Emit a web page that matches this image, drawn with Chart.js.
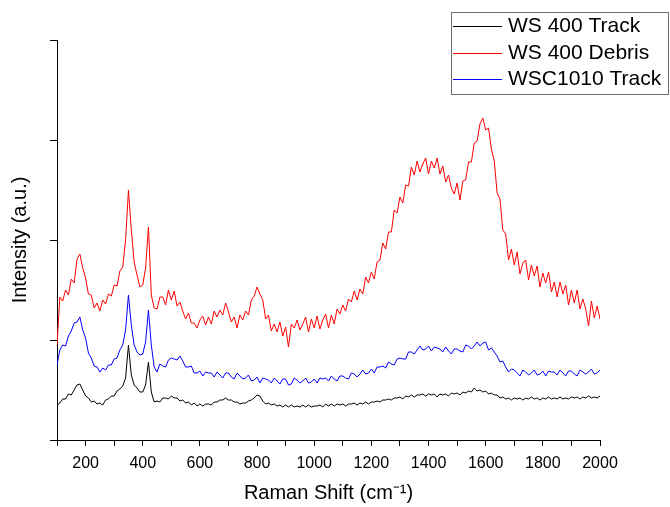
<!DOCTYPE html>
<html>
<head>
    <title>Raman Spectra</title>
    <script src="https://cdn.jsdelivr.net/npm/chart.js@4.4.0/dist/chart.umd.min.js"></script>
    <style>
        body {
            margin: 0;
            padding: 0;
            background-color: #fff;
        }
        #wrap {
            width: 670px;
            height: 507px;
        }
    </style>
</head>
<body>
    <div id="wrap">
        <canvas id="ramanChart" width="670" height="507"></canvas>
    </div>

    <script>
        // Raman shift (cm-1), one sample every 10 cm-1
        const ramanShift = [
            100, 110, 120, 130, 140, 150, 160, 170, 180, 190,
            200, 210, 220, 230, 240, 250, 260, 270, 280, 290,
            300, 310, 320, 330, 340, 350, 360, 370, 380, 390,
            400, 410, 420, 430, 440, 450, 460, 470, 480, 490,
            500, 510, 520, 530, 540, 550, 560, 570, 580, 590,
            600, 610, 620, 630, 640, 650, 660, 670, 680, 690,
            700, 710, 720, 730, 740, 750, 760, 770, 780, 790,
            800, 810, 820, 830, 840, 850, 860, 870, 880, 890,
            900, 910, 920, 930, 940, 950, 960, 970, 980, 990,
            1000, 1010, 1020, 1030, 1040, 1050, 1060, 1070, 1080, 1090,
            1100, 1110, 1120, 1130, 1140, 1150, 1160, 1170, 1180, 1190,
            1200, 1210, 1220, 1230, 1240, 1250, 1260, 1270, 1280, 1290,
            1300, 1310, 1320, 1330, 1340, 1350, 1360, 1370, 1380, 1390,
            1400, 1410, 1420, 1430, 1440, 1450, 1460, 1470, 1480, 1490,
            1500, 1510, 1520, 1530, 1540, 1550, 1560, 1570, 1580, 1590,
            1600, 1610, 1620, 1630, 1640, 1650, 1660, 1670, 1680, 1690,
            1700, 1710, 1720, 1730, 1740, 1750, 1760, 1770, 1780, 1790,
            1800, 1810, 1820, 1830, 1840, 1850, 1860, 1870, 1880, 1890,
            1900, 1910, 1920, 1930, 1940, 1950, 1960, 1970, 1980, 1990,
            2000
        ];

        // intensities (a.u.)
        const ws400Track = [
            35, 37, 41, 41, 46, 45, 50, 55, 56, 50,
            44, 42, 38, 39, 36, 37, 35, 40, 41, 44,
            44, 49, 51, 54, 62, 95, 65, 55, 52, 48,
            48, 55, 78, 48, 38, 39, 38, 42, 42, 41,
            44, 42, 42, 39, 40, 37, 38, 35, 37, 34,
            36, 34, 36, 36, 35, 38, 38, 40, 40, 42,
            40, 40, 38, 38, 36, 37, 37, 39, 40, 42,
            45, 44, 39, 36, 37, 35, 36, 34, 35, 33,
            35, 33, 35, 33, 34, 33, 35, 33, 35, 33,
            34, 34, 35, 33, 36, 34, 36, 34, 36, 35,
            36, 34, 36, 36, 37, 35, 37, 36, 38, 36,
            38, 38, 39, 38, 40, 40, 41, 40, 42, 42,
            43, 41, 44, 43, 45, 43, 45, 45, 46, 44,
            46, 45, 46, 43, 46, 45, 46, 44, 47, 46,
            47, 45, 48, 47, 49, 48, 52, 49, 50, 48,
            49, 46, 47, 45, 45, 42, 43, 41, 42, 40,
            42, 41, 42, 40, 42, 41, 43, 41, 42, 40,
            42, 41, 43, 41, 42, 41, 43, 41, 42, 41,
            43, 42, 43, 41, 43, 42, 44, 42, 43, 42,
            44
        ];

        const ws400Debris = [
            95, 143, 139, 150, 145, 161, 157, 181, 186, 172,
            162, 146, 145, 132, 137, 129, 140, 136, 146, 144,
            155, 154, 169, 173, 200, 250, 210, 178, 165, 153,
            155, 172, 213, 145, 132, 131, 143, 143, 135, 150,
            140, 149, 134, 138, 129, 121, 127, 117, 117, 112,
            120, 124, 115, 123, 116, 129, 123, 130, 125, 137,
            128, 118, 123, 112, 125, 120, 129, 125, 140, 144,
            153, 146, 140, 121, 125, 109, 116, 108, 118, 104,
            113, 93, 116, 112, 120, 110, 116, 123, 108, 121,
            112, 124, 111, 120, 126, 112, 125, 116, 131, 126,
            135, 129, 141, 138, 149, 140, 151, 146, 163, 157,
            168, 161, 178, 180, 197, 191, 208, 208, 230, 227,
            243, 237, 255, 254, 273, 265, 279, 268, 276, 282,
            266, 279, 272, 282, 266, 274, 258, 265, 252, 246,
            257, 240, 259, 260, 278, 278, 297, 299, 316, 322,
            310, 312, 291, 279, 247, 241, 210, 206, 180, 191,
            175, 188, 166, 177, 180, 160, 175, 164, 174, 153,
            167, 157, 168, 148, 158, 143, 158, 146, 155, 135,
            150, 137, 150, 131, 141, 131, 114, 139, 122, 134,
            121
        ];

        const wsc1010Track = [
            75, 90, 95, 94, 104, 109, 117, 118, 123, 110,
            102, 87, 82, 74, 73, 68, 72, 70, 75, 75,
            81, 82, 90, 95, 110, 145, 115, 95, 88, 85,
            86, 98, 130, 95, 73, 68, 76, 74, 73, 80,
            82, 81, 80, 84, 79, 73, 73, 74, 67, 67,
            69, 64, 68, 67, 67, 63, 68, 65, 62, 67,
            67, 63, 61, 67, 64, 61, 62, 65, 59, 60,
            63, 57, 62, 61, 60, 57, 62, 59, 56, 61,
            61, 55, 56, 62, 60, 57, 59, 62, 57, 58,
            61, 57, 62, 61, 62, 59, 64, 61, 59, 64,
            64, 62, 61, 67, 66, 63, 66, 70, 66, 67,
            71, 67, 73, 73, 74, 72, 78, 76, 75, 81,
            82, 81, 81, 88, 88, 86, 90, 94, 90, 91,
            94, 89, 93, 92, 91, 88, 93, 89, 86, 91,
            91, 89, 88, 95, 94, 91, 94, 98, 94, 97,
            98, 90, 92, 88, 84, 78, 79, 73, 68, 71,
            70, 67, 64, 70, 68, 65, 67, 70, 65, 66,
            69, 64, 69, 68, 68, 65, 70, 67, 64, 69,
            69, 66, 64, 70, 68, 66, 68, 71, 66, 67,
            70
        ];

        const seriesNames = ['WS 400 Track', 'WS 400 Debris', 'WSC1010 Track'];
        const seriesColors = ['#000000', '#ff0000', '#0000ff'];

        const FONT = '"Liberation Sans", Arial, sans-serif';

        function toPoints(values) {
            return values.map((v, i) => ({ x: ramanShift[i], y: v }));
        }

        // boxed legend in the top right corner
        const boxLegend = {
            id: 'boxLegend',
            afterDraw(chart) {
                const c = chart.ctx;
                c.save();
                c.strokeStyle = '#6e6e6e';
                c.lineWidth = 1;
                c.strokeRect(451.5, 12.5, 217, 82);
                c.font = '21px ' + FONT;
                c.textBaseline = 'middle';
                seriesNames.forEach((name, i) => {
                    const y = Math.round(26 + i * 26.5) + 0.5;
                    c.strokeStyle = seriesColors[i];
                    c.beginPath();
                    c.moveTo(453, y);
                    c.lineTo(502, y);
                    c.stroke();
                    c.fillStyle = '#000';
                    c.fillText(name, 508, y);
                });
                c.restore();
            }
        };

        const ctx = document.getElementById('ramanChart').getContext('2d');
        const ramanChart = new Chart(ctx, {
            type: 'line',
            data: {
                datasets: [
                    { label: seriesNames[0], data: toPoints(ws400Track) },
                    { label: seriesNames[1], data: toPoints(ws400Debris) },
                    { label: seriesNames[2], data: toPoints(wsc1010Track) }
                ].map((ds, i) => Object.assign(ds, {
                    borderColor: seriesColors[i],
                    backgroundColor: seriesColors[i],
                    borderWidth: 1,
                    pointRadius: 0,
                    tension: 0,
                    fill: false
                }))
            },
            options: {
                responsive: false,
                animation: false,
                layout: {
                    padding: { left: 0, right: 70, top: 40, bottom: 0 }
                },
                plugins: {
                    legend: { display: false },
                    tooltip: { enabled: false }
                },
                scales: {
                    x: {
                        type: 'linear',
                        min: 100,
                        max: 2000,
                        afterFit(scale) { scale.height = 67; },
                        border: { color: '#000', width: 1 },
                        grid: {
                            drawOnChartArea: false,
                            color: '#000',
                            tickColor: '#000',
                            tickLength: 6
                        },
                        ticks: {
                            stepSize: 100,
                            autoSkip: false,
                            maxRotation: 0,
                            padding: 8,
                            color: '#000',
                            font: { family: FONT, size: 16 },
                            callback: v => (v % 200 === 0 ? v : '')
                        },
                        title: {
                            display: true,
                            text: 'Raman Shift (cm\u207B\u00B9)',
                            color: '#000',
                            font: { family: FONT, size: 20 },
                            padding: { top: 0, bottom: 2 }
                        }
                    },
                    y: {
                        type: 'linear',
                        min: 0,
                        max: 400,
                        afterFit(scale) { scale.width = 57; },
                        border: { color: '#000', width: 1 },
                        grid: {
                            drawOnChartArea: false,
                            color: '#000',
                            tickColor: '#000',
                            tickLength: 7
                        },
                        ticks: {
                            stepSize: 100,
                            display: false
                        },
                        title: {
                            display: true,
                            text: 'Intensity (a.u.)',
                            color: '#000',
                            font: { family: FONT, size: 20 },
                            padding: { top: 8, bottom: 0 }
                        }
                    }
                }
            },
            plugins: [boxLegend]
        });
    </script>
</body>
</html>
